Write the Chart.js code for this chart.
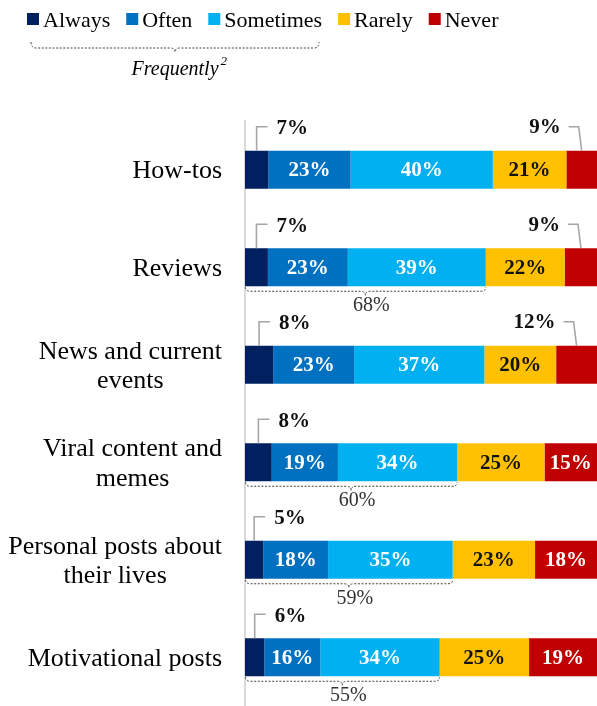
<!DOCTYPE html>
<html><head><meta charset="utf-8">
<script src="https://cdn.jsdelivr.net/npm/chart.js@4"></script>
<style>html,body{margin:0;padding:0;background:#fff}#wrap{width:597px;height:706px;position:relative}canvas{display:block}</style>
</head><body><div id="wrap"><canvas id="c" width="597" height="706"></canvas></div>
<script>
const categories = [["How-tos"],["Reviews"],["News and current","events"],["Viral content and","memes"],["Personal posts about","their lives"],["Motivational posts"]];
const seriesNames = ["Always","Often","Sometimes","Rarely","Never"];
const always    = [6.6, 6.5, 8.0, 7.6, 5.2, 5.5];
const often     = [23.4, 22.7, 23.0, 18.8, 18.4, 15.9];
const sometimes = [40.4, 39.2, 37.0, 33.9, 35.4, 33.9];
const rarely    = [20.9, 22.4, 20.4, 24.8, 23.4, 25.4];
const never     = [8.7, 9.3, 11.6, 14.9, 17.6, 19.3];
const frequentlyShown = [false, true, false, true, true, true];
const groupLabel = "Frequently";
const groupNote = "2";

const seriesValues = [always, often, sometimes, rarely, never];
const colors = ["#002060", "#0070C0", "#00B0F0", "#FFC000", "#C00000"];
const labelColors = ["#fff", "#fff", "#fff", "#111", "#fff"];
const SERIF = '"Liberation Serif", "DejaVu Serif", serif';

function brace(c, x0, x1, y, h, tip, xm) {
  c.beginPath();
  c.moveTo(x0, y);
  c.quadraticCurveTo(x0, y + h, x0 + 5, y + h);
  c.lineTo(xm - 5, y + h);
  c.quadraticCurveTo(xm, y + h, xm, y + h + tip);
  c.quadraticCurveTo(xm, y + h, xm + 5, y + h);
  c.lineTo(x1 - 5, y + h);
  c.quadraticCurveTo(x1, y + h, x1, y);
  c.stroke();
}

const annot = {
  id: 'annot',
  afterDraw(chart) {
    const c = chart.ctx;
    const ys = chart.scales.y;
    const metas = seriesNames.map((_, k) => chart.getDatasetMeta(k));
    c.save();
    // category labels
    c.font = '26px ' + SERIF; c.fillStyle = '#000'; c.textBaseline = 'alphabetic'; c.textAlign = 'center';
    categories.forEach((lines, i) => {
      const yc = ys.getPixelForValue(i);
      const maxW = Math.max(...lines.map(l => c.measureText(l).width));
      const cx = chart.chartArea.left - 23 - maxW / 2;
      const lh = 29.5;
      const first = yc - (lines.length - 1) * lh / 2 + 8.5;
      lines.forEach((l, j) => c.fillText(l, cx, first + j * lh));
    });
    // segment labels and callouts
    categories.forEach((_, i) => {
      seriesValues.forEach((vals, k) => {
        const el = metas[k].data[i];
        const left = Math.min(el.x, el.base), right = Math.max(el.x, el.base);
        const w = right - left;
        const top = el.y - el.height / 2;
        const txt = Math.round(vals[i]) + '%';
        const segC = (left + right) / 2;
        c.font = 'bold 21px ' + SERIF;
        if (w >= 46) {
          c.fillStyle = labelColors[k]; c.textAlign = 'center'; c.textBaseline = 'middle';
          c.fillText(txt, segC, el.y + 1);
        } else {
          const ly = top - 24;
          c.strokeStyle = '#a6a6a6'; c.lineWidth = 1.6; c.setLineDash([]);
          c.beginPath();
          c.fillStyle = '#111'; c.textBaseline = 'middle';
          if (k === 0) {
            c.moveTo(segC, top); c.lineTo(segC, ly); c.lineTo(segC + 11, ly);
            c.stroke();
            c.textAlign = 'left'; c.fillText(txt, segC + 20, ly + 2);
          } else {
            c.moveTo(segC, top); c.lineTo(segC - 3, ly); c.lineTo(segC - 13, ly);
            c.stroke();
            c.textAlign = 'right'; c.fillText(txt, segC - 21, ly + 1);
          }
        }
      });
      if (frequentlyShown[i]) {
        const e0 = metas[0].data[i], e2 = metas[2].data[i];
        const x0 = Math.min(e0.x, e0.base), x1 = Math.max(e2.x, e2.base);
        const bottom = e0.y + e0.height / 2;
        const xm = (x0 + x1) / 2;
        c.strokeStyle = '#444'; c.lineWidth = 1; c.setLineDash([2, 1.6]);
        brace(c, x0 + 0.5, x1, bottom + 1, 4, 4, xm);
        c.setLineDash([]);
        const s = always[i] + often[i] + sometimes[i];
        c.font = '20px ' + SERIF; c.fillStyle = '#333'; c.textAlign = 'center'; c.textBaseline = 'alphabetic';
        c.fillText(Math.round(s) + '%', xm + 6, bottom + 25);
      }
    });
    // legend
    c.font = '22px ' + SERIF; c.textAlign = 'left'; c.textBaseline = 'alphabetic';
    let x = 27; const bounds = [];
    seriesNames.forEach((n, k) => {
      c.fillStyle = colors[k]; c.fillRect(x, 13, 12, 12);
      c.fillStyle = '#000'; c.fillText(n, x + 16, 27);
      const w = c.measureText(n).width;
      bounds.push([x, x + 16 + w]);
      x += 16 + w + 16;
    });
    const bx0 = bounds[0][0] + 4, bx1 = bounds[2][1] - 3, bxm = (bx0 + bx1) / 2;
    c.strokeStyle = '#444'; c.lineWidth = 1; c.setLineDash([2, 1.6]);
    brace(c, bx0, bx1, 42, 6, 4, bxm);
    c.setLineDash([]);
    c.font = 'italic 20px ' + SERIF; c.fillStyle = '#000'; c.textAlign = 'center';
    c.fillText(groupLabel, bxm, 75);
    const gw = c.measureText(groupLabel).width;
    c.font = 'italic 13px ' + SERIF; c.textAlign = 'left';
    c.fillText(groupNote, bxm + gw / 2 + 2, 65);
    c.restore();
  }
};

new Chart(document.getElementById('c'), {
  type: 'bar',
  data: {
    labels: categories,
    datasets: seriesNames.map((n, k) => ({
      label: n, data: seriesValues[k], backgroundColor: colors[k], borderWidth: 0,
      barPercentage: 0.39, categoryPercentage: 1
    }))
  },
  options: {
    indexAxis: 'y', responsive: false, animation: false, devicePixelRatio: 1,
    layout: { padding: { top: 121, left: 0, right: 0, bottom: 0 } },
    plugins: { legend: { display: false }, tooltip: { enabled: false } },
    scales: {
      x: { stacked: true, display: false, min: 0, max: 100 },
      y: {
        stacked: true, grid: { display: false },
        border: { display: true, color: '#d9d9d9', width: 2 },
        ticks: { display: false },
        afterFit(s) { s.width = 245; }
      }
    }
  },
  plugins: [annot]
});
</script></body></html>
